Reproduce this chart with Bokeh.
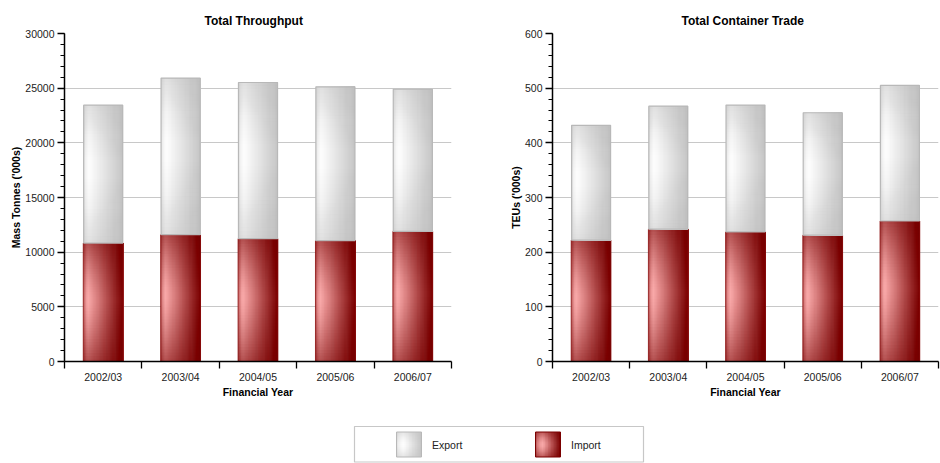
import numpy as np
from bokeh.plotting import figure
from bokeh.models import Range1d, FixedTicker, SingleIntervalTicker, ColumnDataSource, BoxAnnotation
from bokeh.layouts import column, row
from bokeh.embed import file_html
from bokeh.resources import INLINE
from bokeh.core.properties import value

# ---------------- data ----------------
years = ["2002/03", "2003/04", "2004/05", "2005/06", "2006/07"]
series_names = ["Export", "Import"]

throughput_import = [10830, 11600, 11230, 11050, 11900]   # Mass Tonnes ('000s)
throughput_export = [12610, 14320, 14290, 14070, 13000]

container_import = [222, 242, 237, 231, 257]              # TEUs ('000s)
container_export = [210, 225, 232, 224, 248]

titles = ["Total Throughput", "Total Container Trade"]
ylabels = ["Mass Tonnes ('000s)", "TEUs ('000s)"]
xlabel = "Financial Year"

FONT = "Liberation Sans"
# (edge colour, centre colour, focus x, focus y, vertical darkening)
RED_STYLE = ((122, 0, 0), (248, 168, 168), 0.13, 0.52, 0.5)
GREY_STYLE = ((198, 198, 198), (253, 253, 253), 0.15, 0.54, 0.45)


def hexcol(c):
    return "#%02x%02x%02x" % tuple(int(round(v)) for v in c)


def gradient_sources(xs, bottoms, tops, width, style, nx=28, ny=22):
    edge, centre, fx, fy, amax = style
    h = dict(left=[], right=[], bottom=[], top=[], color=[])
    v = dict(left=[], right=[], bottom=[], top=[], alpha=[])
    for x, b, t in zip(xs, bottoms, tops):
        l0, r0 = x - width / 2.0, x + width / 2.0
        # horizontal profile: nested strips, each covering from its start to the right edge
        for i in range(nx):
            pos = (i + 0.5) / nx
            if pos < fx:
                d = (fx - pos) / fx
                u = 1.0 - 0.5 * d * d
            else:
                d = (pos - fx) / (1.0 - fx)
                u = 1.0 - d
            h["left"].append(l0 + (r0 - l0) * i / nx)
            h["right"].append(r0)
            h["bottom"].append(b)
            h["top"].append(t)
            h["color"].append(hexcol([e + (c - e) * u for e, c in zip(edge, centre)]))
        # vertical darkening: cumulative translucent overlays from the top and bottom
        cy = b + fy * (t - b)
        prev = 0.0
        for j in range(1, ny + 1):
            a_tot = amax * (j / ny) ** 1.5
            a = 1.0 - (1.0 - a_tot) / (1.0 - prev)
            prev = a_tot
            for lo, hi in ((cy + (t - cy) * j / ny, t), (b, cy - (cy - b) * j / ny)):
                v["left"].append(l0)
                v["right"].append(r0)
                v["bottom"].append(lo)
                v["top"].append(hi)
                v["alpha"].append(a)
    return ColumnDataSource(h), ColumnDataSource(v)


def draw_gradient_bars(p, xs, bottoms, tops, width, style, **kw):
    hs, vs = gradient_sources(xs, bottoms, tops, width, style, **kw)
    p.quad(left="left", right="right", bottom="bottom", top="top", fill_color="color",
           line_color=None, source=hs)
    p.quad(left="left", right="right", bottom="bottom", top="top", fill_color=hexcol(style[0]),
           fill_alpha="alpha", line_color=None, source=vs)


def make_chart(title, ylabel, imports, exports, ymax, yint, width, mb_left, mb_right, title_off):
    n = len(years)
    xs = [i + 0.5 for i in range(n)]
    totals = [a + b for a, b in zip(imports, exports)]
    bw = 0.515

    p = figure(width=width, height=403, x_range=Range1d(0, n), y_range=Range1d(0, ymax),
               output_backend="svg", toolbar_location=None, title=title,
               min_border_left=mb_left, min_border_right=mb_right,
               min_border_top=33, min_border_bottom=42)
    p.outline_line_color = None
    p.background_fill_color = "white"
    p.border_fill_color = "white"

    p.title.align = "left"
    p.title.offset = title_off
    p.title.text_font = FONT
    p.title.text_font_size = "12px"
    p.title.text_font_style = "bold"
    p.title.text_color = "black"
    p.title.standoff = 12

    # Import (bottom) bars - red gradient
    draw_gradient_bars(p, xs, [0] * n, imports, bw, RED_STYLE)
    p.vbar(x=xs, bottom=0, top=imports, width=bw, fill_color=None,
           line_color="#8a0c0c", line_width=0.8)
    # Export (stacked) bars - grey gradient
    draw_gradient_bars(p, xs, imports, totals, bw - 0.01, GREY_STYLE)
    p.vbar(x=xs, bottom=imports, top=totals, width=bw - 0.01, fill_color=None,
           line_color="#b8b8b8", line_width=1.2)

    # x axis: labels at centres, ticks at category boundaries
    xa = p.xaxis[0]
    xa.ticker = FixedTicker(ticks=xs, minor_ticks=list(range(n + 1)))
    xa.major_label_overrides = {x: y for x, y in zip(xs, years)}
    xa.major_tick_line_color = None
    xa.major_tick_out = 7
    xa.major_tick_in = 0
    xa.minor_tick_out = 7
    xa.minor_tick_in = 0
    xa.minor_tick_line_color = "black"
    xa.minor_tick_line_width = 1.3
    xa.axis_line_color = "black"
    xa.axis_line_width = 1.5
    xa.major_label_standoff = 2
    xa.major_label_text_font = FONT
    xa.major_label_text_font_size = "10.5px"
    xa.major_label_text_color = "#222222"
    xa.axis_label = xlabel
    xa.axis_label_standoff = 0
    xa.axis_label_text_font = FONT
    xa.axis_label_text_font_size = "10.5px"
    xa.axis_label_text_font_style = "bold"
    xa.axis_label_text_color = "black"

    ya = p.yaxis[0]
    ya.ticker = SingleIntervalTicker(interval=yint, num_minor_ticks=5)
    ya.major_tick_out = 7
    ya.major_tick_in = 0
    ya.minor_tick_out = 4
    ya.minor_tick_in = 0
    ya.major_tick_line_color = "black"
    ya.minor_tick_line_color = "black"
    ya.major_tick_line_width = 1.3
    ya.minor_tick_line_width = 1.1
    ya.axis_line_color = "black"
    ya.axis_line_width = 1.5
    ya.major_label_standoff = 3
    ya.major_label_text_font = FONT
    ya.major_label_text_font_size = "10.5px"
    ya.major_label_text_color = "#222222"
    ya.axis_label = ylabel
    ya.axis_label_standoff = 0
    ya.axis_label_text_font = FONT
    ya.axis_label_text_font_size = "10.5px"
    ya.axis_label_text_font_style = "bold"
    ya.axis_label_text_color = "black"

    p.xgrid.visible = False
    p.ygrid.grid_line_color = "#c8c8c8"
    p.ygrid.grid_line_width = 1.2
    return p


p1 = make_chart(titles[0], ylabels[0], throughput_import, throughput_export,
                30000, 5000, 470, 64, 19, 140)
p2 = make_chart(titles[1], ylabels[1], container_import, container_export,
                600, 100, 470, 82, 2, 129)

# ---------------- legend ----------------
LW, LH = 940, 60
leg = figure(width=LW, height=LH, x_range=Range1d(0, LW), y_range=Range1d(0, LH),
             output_backend="svg", toolbar_location=None, min_border=0)
leg.axis.visible = False
leg.grid.visible = False
leg.outline_line_color = None
leg.add_layout(BoxAnnotation(left=354, right=643, bottom=1.5, top=37, fill_color=None,
                             fill_alpha=0, line_color="#444444", line_width=1.2))
sw_x = [408.5, 547.5]
sw_styles = [(GREY_STYLE, "#b8b8b8"), (RED_STYLE, "#7a0000")]
for name, sx, (st, lc) in zip(series_names, sw_x, sw_styles):
    sw = (st[0], st[1], 0.3, 0.5, st[4])
    draw_gradient_bars(leg, [sx], [6.5], [31.5], 25, sw, nx=16, ny=10)
    leg.quad(left=[sx - 12.5], right=[sx + 12.5], bottom=[6.5], top=[31.5], fill_color=None,
             line_color=lc, line_width=1)
    leg.text(x=[sx + 23], y=[18.5], text=[name], text_font=value(FONT),
             text_font_size="10.5px", text_color="#222222", text_baseline="middle",
             text_align="left")

layout = column(row(p1, p2), leg)
open("out.html", "w").write(file_html(layout, INLINE))
